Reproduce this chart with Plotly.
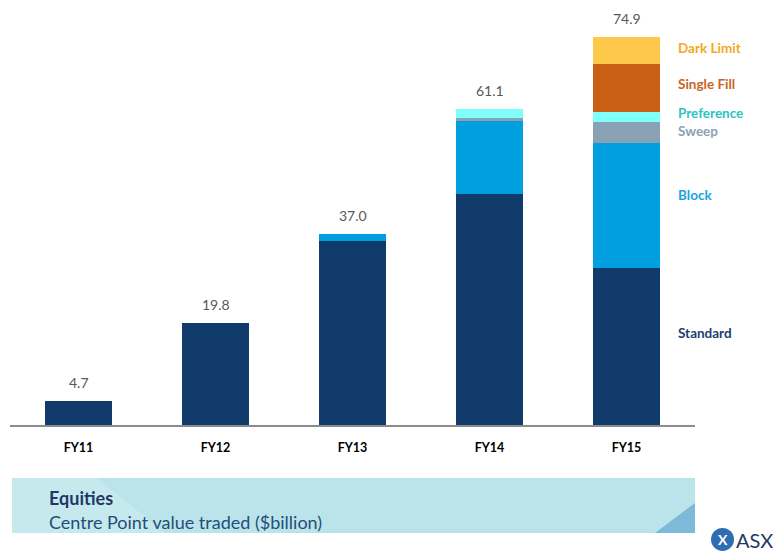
import plotly.graph_objects as go

categories = ["FY11", "FY12", "FY13", "FY14", "FY15"]
series_names = ["Standard", "Block", "Sweep", "Preference", "Single Fill", "Dark Limit"]
standard = [4.7, 19.8, 35.6, 44.6, 30.3]
block = [0, 0, 1.4, 14.1, 24.1]
sweep = [0, 0, 0, 0.6, 4.2]
preference = [0, 0, 0, 1.8, 1.8]
single_fill = [0, 0, 0, 0, 9.3]
dark_limit = [0, 0, 0, 0, 5.2]
totals = [4.7, 19.8, 37.0, 61.1, 74.9]
total_labels = ["4.7", "19.8", "37.0", "61.1", "74.9"]
label_y = [17.8, 44.4, 56.9, 60.2, 65.8, 72.8]

bar_colors = ["#0F3A6A", "#009FDF", "#8AA1B4", "#7FFFFA", "#CA6016", "#FEC84A"]
text_colors = ["#1B3F6E", "#1AA3E0", "#8AA1B4", "#2CC4C0", "#C9651F", "#F5A821"]

series = [standard, block, sweep, preference, single_fill, dark_limit]

fig = go.Figure()
for name, vals, col in zip(series_names, series, bar_colors):
    fig.add_trace(go.Bar(x=categories, y=vals, name=name, marker=dict(color=col, line=dict(width=0)),
                         hoverinfo="skip"))

# total labels
for c, t, lab in zip(categories, totals, total_labels):
    fig.add_annotation(x=c, y=t, text=lab, showarrow=False, yanchor="bottom", yshift=8,
                       font=dict(family="Lato, Open Sans, sans-serif", size=14, color="#595959"))

W, H = 773, 551
L, R = 10, 695
T, B = 10.6, 425.0


def px(xp):
    return (xp - L) / (R - L)


def py(yp):
    return (B - yp) / (B - T)


# series labels at right
for name, ly, tc in zip(series_names, label_y, text_colors):
    fig.add_annotation(xref="paper", x=px(676), y=ly, yref="y", text="<b>" + name + "</b>",
                       showarrow=False, xanchor="left", yanchor="middle",
                       font=dict(family="Lato, Open Sans, sans-serif", size=13.5, color=tc))

shapes = []
# banner main
shapes.append(dict(type="rect", xref="paper", yref="paper", x0=px(12), x1=px(695), y0=py(533), y1=py(478),
                   fillcolor="#BAE4EA", line=dict(width=0), layer="below"))
# lighter left diagonal part
shapes.append(dict(type="path", xref="paper", yref="paper",
                   path=f"M {px(12)} {py(478)} L {px(97)} {py(478)} L {px(165)} {py(533)} L {px(12)} {py(533)} Z",
                   fillcolor="#C6E9EE", line=dict(width=0), layer="below"))
# right triangle
shapes.append(dict(type="path", xref="paper", yref="paper",
                   path=f"M {px(655)} {py(533)} L {px(695)} {py(503)} L {px(695)} {py(533)} Z",
                   fillcolor="#7DB9D9", line=dict(width=0), layer="below"))
# ASX logo circle
shapes.append(dict(type="circle", xref="paper", yref="paper", x0=px(711), x1=px(734), y0=py(551), y1=py(528),
                   fillcolor="#2E6DB0", line=dict(width=0)))
fig.update_layout(shapes=shapes)

fig.add_annotation(xref="paper", yref="paper", x=px(47), y=py(498), text="<b>Equities</b>", showarrow=False,
                   xanchor="left", yanchor="middle",
                   font=dict(family="Lato, Open Sans, sans-serif", size=18, color="#1F3864"))
fig.add_annotation(xref="paper", yref="paper", x=px(47), y=py(522), text="Centre Point value traded ($billion)",
                   showarrow=False, xanchor="left", yanchor="middle",
                   font=dict(family="Lato, Open Sans, sans-serif", size=18, color="#1F4E79"))
fig.add_annotation(xref="paper", yref="paper", x=px(722.5), y=py(539.5), text="<b>X</b>", showarrow=False,
                   xanchor="center", yanchor="middle",
                   font=dict(family="Lato, sans-serif", size=14, color="white"))
fig.add_annotation(xref="paper", yref="paper", x=px(734), y=py(540), text="ASX", showarrow=False,
                   xanchor="left", yanchor="middle",
                   font=dict(family="Lato, Open Sans, sans-serif", size=20, color="#1F3864"))

fig.update_layout(
    width=W, height=H,
    barmode="stack", bargap=0.51,
    showlegend=False,
    plot_bgcolor="white", paper_bgcolor="white",
    margin=dict(l=L, r=W - R, t=T, b=H - B, autoexpand=False),
    xaxis=dict(showline=True, linecolor="#8C8C8C", linewidth=1.5, ticks="", showgrid=False,
               ticklabelstandoff=10,
               tickfont=dict(family="Lato, Open Sans, sans-serif", size=12.5, color="#000000"),
               tickprefix="<b>", ticksuffix="</b>", range=[-0.5, 4.5]),
    yaxis=dict(range=[0, 80], visible=False, showgrid=False, zeroline=False),
)

fig.write_html("out.html")
